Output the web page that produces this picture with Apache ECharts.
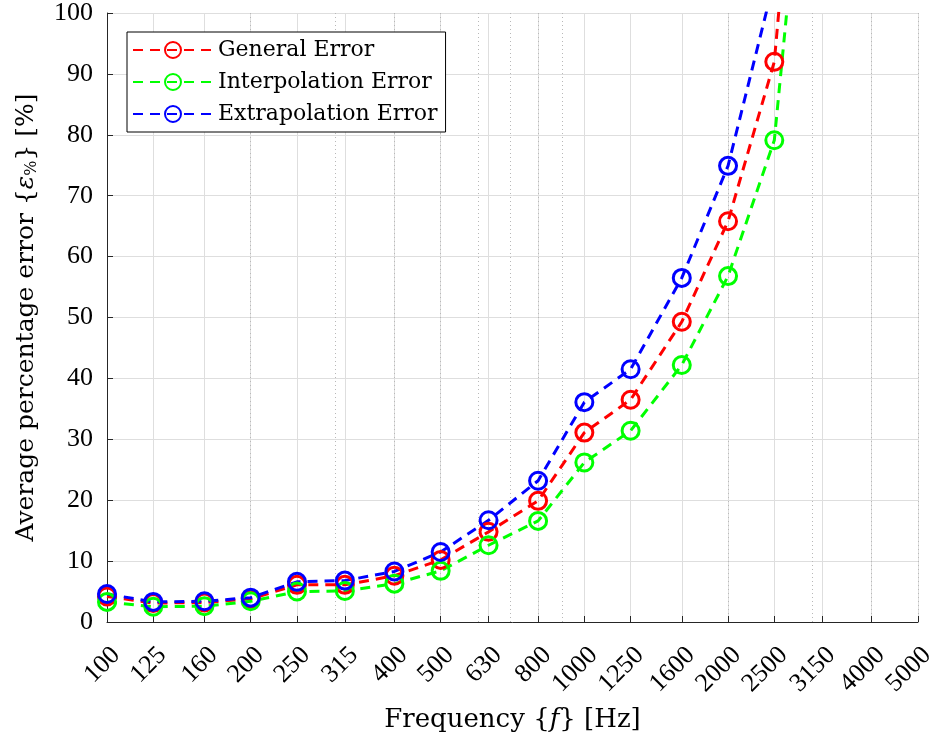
<!DOCTYPE html>
<html>
<head>
<meta charset="utf-8">
<script src="https://cdn.jsdelivr.net/npm/echarts@6/dist/echarts.min.js"></script>
<style>
html,body{margin:0;padding:0;background:#fff;}
#chart{width:938px;height:742px;}
</style>
</head>
<body>
<div id="chart"></div>
<script>
// ---- data ----
var tickFreqs = [100,125,160,200,250,315,400,500,630,800,1000,1250,1600,2000,2500,3150,4000,5000];
var minorFreqs = [200,300,400,500,600,700,800,900,2000,3000,4000,5000];
var freqs = [100,125,160,200,250,315,400,500,630,800,1000,1250,1600,2000,2500,3150];
var generalErr = [4.2,3.1,3.2,3.8,6.1,6.1,7.6,10.2,14.8,19.9,31.1,36.5,49.3,65.8,92.0,180];
var interpErr  = [3.3,2.5,2.6,3.4,5.0,5.1,6.3,8.4,12.6,16.6,26.2,31.4,42.2,56.8,79.1,160];
var extrapErr  = [4.6,3.3,3.4,4.0,6.6,6.8,8.3,11.5,16.7,23.2,36.1,41.5,56.5,74.9,105.4];
var seriesNames = ['General Error','Interpolation Error','Extrapolation Error'];
var seriesColors = ['#ff0000','#00ff00','#0000ff'];

var NUMFONT = "'Liberation Serif', serif";
var FONT = "'DejaVu Serif', serif";
var AX = '#262626';

function pairs(vals){ return vals.map(function(v,i){ return [freqs[i], v]; }); }
var allVals = [generalErr, interpErr, extrapErr];

var chart = echarts.init(document.getElementById('chart'), null, {renderer:'canvas'});
var series = allVals.map(function(vals, k){
  return {
    name: seriesNames[k],
    type: 'line',
    data: pairs(vals),
    color: seriesColors[k],
    symbol: 'circle',
    symbolSize: 17,
    showAllSymbol: true,
    clip: true,
    itemStyle: {color: 'rgba(255,255,255,0)', borderColor: seriesColors[k], borderWidth: 3},
    lineStyle: {color: seriesColors[k], width: 3, type: [10,7]},
    emphasis: {disabled: true},
    animation: false
  };
});

chart.setOption({
  animation: false,
  backgroundColor: '#fff',
  textStyle: {fontFamily: FONT},
  grid: {left: 107, right: 20, top: 13, bottom: 120, containLabel: false, outerBoundsMode: 'none'},
  legend: {
    data: seriesNames,
    orient: 'vertical',
    left: 127, top: 32,
    backgroundColor: '#fff',
    borderColor: '#000',
    borderWidth: 1,
    borderRadius: 0,
    padding: [7, 8, 7, 5],
    itemWidth: 80, itemHeight: 20, itemGap: 10,
    textStyle: {fontFamily: FONT, fontSize: 22, color: '#000'},
    selectedMode: false
  },
  xAxis: [{
    type: 'log', logBase: 10, min: 100, max: 5000,
    axisLine: {show: true, onZero: false, lineStyle: {color: AX, width: 1}},
    axisTick: {show: true, inside: true, length: 6, customValues: tickFreqs, lineStyle: {color: AX}},
    axisLabel: {customValues: tickFreqs, rotate: 45, fontFamily: NUMFONT, fontSize: 26, color: '#000',
      margin: 20, align: 'right', verticalAlign: 'top',
      formatter: function(v){ return String(Math.round(v)); }},
    splitLine: {show: true, lineStyle: {color: '#dedede', width: 1}},
    minorTick: {show: false}, minorSplitLine: {show: false},
    name: 'Frequency {{i|f}} [Hz]',
    nameLocation: 'middle', nameGap: 85,
    nameTextStyle: {fontFamily: FONT, fontSize: 26, color: '#000',
      rich: {i: {fontFamily: FONT, fontStyle: 'italic', fontSize: 26, color: '#000'}}}
  },{
    type: 'log', logBase: 10, min: 100, max: 5000, position: 'bottom',
    axisLine: {show: false}, axisLabel: {show: false},
    axisTick: {show: false, customValues: minorFreqs},
    splitLine: {show: true, lineStyle: {color: '#b8b8b8', width: 1, type: [1,3]}},
    z: 0
  }],
  yAxis: {
    type: 'value', min: 0, max: 100, interval: 10,
    axisLine: {show: true, lineStyle: {color: AX, width: 1}},
    axisTick: {show: true, inside: true, length: 6, lineStyle: {color: AX}},
    axisLabel: {fontFamily: NUMFONT, fontSize: 26, color: '#000', margin: 14},
    splitLine: {show: true, lineStyle: {color: '#dedede', width: 1}},
    name: 'Average percentage error {{e|ε}{s|%}} [%]',
    nameLocation: 'middle', nameGap: 67,
    nameTextStyle: {fontFamily: FONT, fontSize: 25, color: '#000',
      rich: {e: {fontFamily: FONT, fontStyle: 'italic', fontSize: 25, color: '#000'},
             s: {fontFamily: FONT, fontSize: 16, color: '#000', padding: [12,0,0,0]}}}
  },
  series: series
});
</script>
</body>
</html>
